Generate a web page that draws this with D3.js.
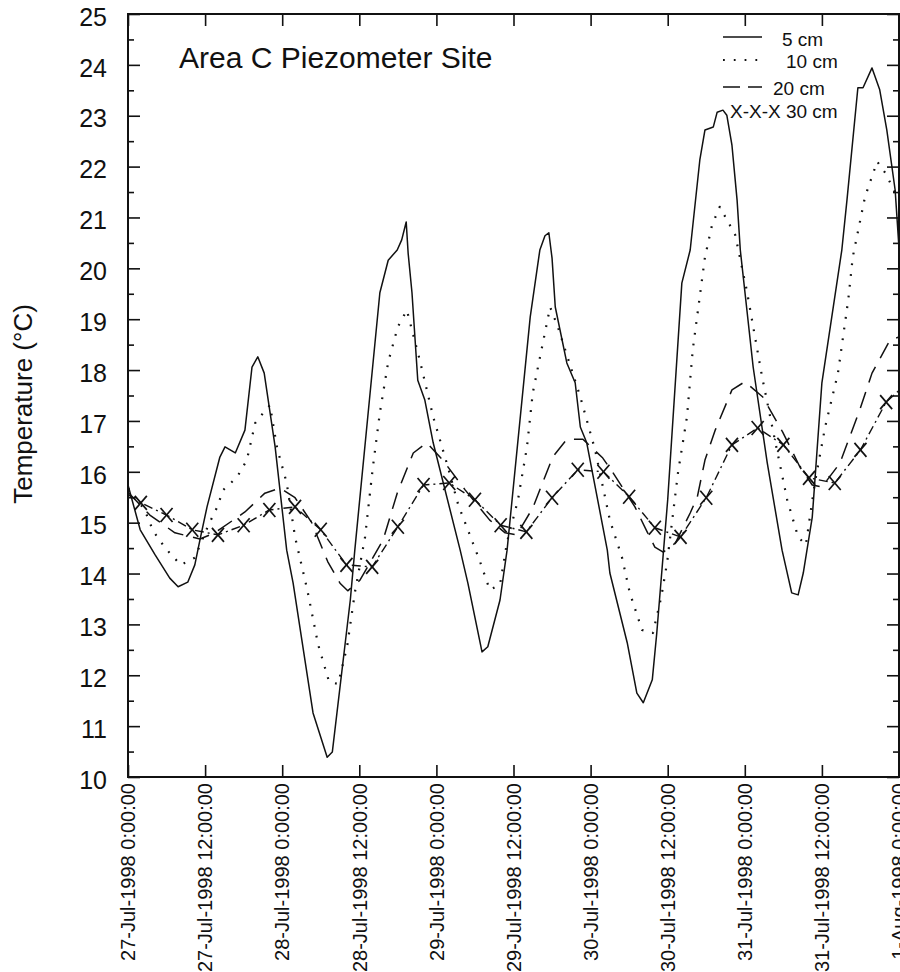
<!DOCTYPE html>
<html lang="en">
<head>
  <meta charset="UTF-8" />
  <title>Area C Piezometer Site</title>
  <style>
    body { margin: 0; padding: 0; background: #fff; }
    svg { display: block; font-family: "Liberation Sans", Arial, Helvetica, sans-serif; }
  </style>
</head>
<body>
  <svg id="chart" width="900" height="972"></svg>

  <script src="https://d3js.org/d3.v7.min.js"></script>
  <script>
    // hours after 27-Jul-1998 0:00, temperature in deg C
    const hours5 = [0, 1.9, 4.2, 6.5, 7.8, 9.3, 10.4, 11.2, 12.3, 14.3, 15.1, 16.7, 18.2, 19.3, 20.2, 21.2, 22.9, 24.7, 25.7, 28.8,
      31.0, 31.8, 34.6, 35.3, 39.2, 40.5, 41.9, 42.6, 43.3, 43.6, 44.2, 45.1, 46.2, 47.5, 51.7, 52.9, 55.1, 56.0, 57.9, 59.0,
      62.6, 64.1, 64.9, 65.5, 66.0, 66.5, 68.3, 69.6, 70.4, 71.4, 74.6, 75.0, 77.7, 79.2, 80.2, 81.6, 82.3, 84.0, 86.2, 87.5,
      89.0, 89.8, 91.1, 91.7, 92.6, 93.2, 94.0, 94.8, 95.3, 97.3, 99.5, 101.8, 103.3, 104.3, 105.1, 106.5, 108.0, 111.1, 111.9, 113.6,
      114.4, 115.8, 117.0, 118.1, 119.4, 120];
    const temp5 = [15.74, 14.86, 14.37, 13.91, 13.74, 13.83, 14.17, 14.66, 15.31, 16.29, 16.49, 16.37, 16.82, 18.06, 18.26, 17.94, 16.49, 14.46, 13.81, 11.26,
      10.39, 10.49, 13.48, 14.46, 19.52, 20.16, 20.36, 20.56, 20.91, 20.3, 19.52, 17.8, 17.41, 16.57, 14.46, 13.81, 12.46, 12.56, 13.48, 14.46,
      19.04, 20.36, 20.64, 20.7, 20.2, 19.24, 18.14, 17.75, 16.88, 16.57, 14.46, 14.01, 12.64, 11.65, 11.46, 11.91, 12.83, 15.45, 19.71, 20.36,
      22.13, 22.72, 22.78, 23.07, 23.11, 23.01, 22.42, 21.34, 20.36, 18.06, 16.17, 14.46, 13.62, 13.58, 14.01, 15.11, 17.75, 20.36, 21.34, 23.55,
      23.55, 23.94, 23.51, 22.72, 21.54, 20.4];

    const hours10 = [0, 2.6, 3.9, 5.8, 8.2, 10.4, 12.5, 13.9, 14.8, 17.0, 18.5, 19.8, 21.2, 22.1, 23.2, 24.7, 26.0, 27.9, 29.6, 31.3,
      32.7, 34.1, 35.3, 36.9, 38.1, 39.2, 40.5, 42.0, 43.4, 45.4, 47.5, 49.8, 51.4, 53.5, 54.8, 56.3, 57.9, 59.0, 60.7, 62.1,
      63.0, 64.1, 65.7, 66.9, 70.4, 72.7, 75.0, 76.9, 78.1, 80.0, 81.7, 83.0, 83.9, 85.6, 87.0, 87.9, 89.8, 90.9, 92.1, 94.5,
      96.3, 98.7, 101.0, 102.6, 104.3, 105.5, 106.9, 108.5, 110.5, 112.1, 112.8, 114.7, 116.6, 118.0, 119.4];
    const temp10 = [15.68, 15.25, 14.84, 14.50, 14.17, 14.31, 14.95, 15.31, 15.64, 15.90, 16.23, 16.96, 17.18, 17.31, 16.47, 15.78, 14.72, 13.68, 12.60, 11.87,
      11.83, 12.56, 13.62, 14.72, 16.08, 17.16, 18.16, 18.85, 19.18, 18.20, 17.08, 16.09, 15.35, 14.66, 14.23, 13.68, 13.78, 14.62, 15.45, 16.49,
      17.55, 18.24, 19.24, 18.85, 17.47, 16.43, 15.05, 14.31, 13.62, 12.89, 12.83, 13.54, 14.21, 15.98, 17.08, 18.40, 20.22, 20.85, 21.21, 20.66,
      19.57, 17.86, 16.43, 15.45, 14.72, 14.56, 15.78, 16.88, 17.94, 19.38, 20.22, 21.4, 22.1, 21.85, 21.48];

    const hours20 = [0, 3.4, 7.3, 11.2, 13.5, 18.2, 21.3, 23.7, 26.0, 28.6, 31.1, 33.0, 34.2, 36.1, 39.7, 41.9, 44.4, 46.5, 49.0, 52.5,
      56.3, 58.7, 60.5, 63.0, 66.1, 68.3, 70.8, 73.9, 75.5, 78.9, 80.8, 82.0, 83.3, 85.2, 87.5, 88.6, 89.8, 91.4, 94.0, 96.0,
      98.8, 101.9, 104.6, 106.5, 108.0, 110.8, 113.9, 115.8, 118.6, 120];
    const temp20 = [15.6, 15.15, 14.8, 14.68, 14.8, 15.21, 15.58, 15.68, 15.49, 15.0, 14.23, 13.81, 13.66, 13.87, 14.66, 15.58, 16.37, 16.57, 16.23, 15.64,
      15.05, 14.80, 14.76, 15.29, 16.29, 16.64, 16.64, 16.27, 15.98, 15.31, 14.82, 14.52, 14.42, 14.6, 15.19, 15.5, 16.23, 16.82, 17.61, 17.77,
      17.47, 16.78, 16.09, 15.74, 15.70, 16.17, 17.22, 17.94, 18.59, 18.65];

    const hours30 = [0, 2, 6, 10, 14, 18, 22, 26, 30, 34, 38, 42, 46, 50, 54, 58, 62, 66, 70, 74,
      78, 82, 86, 90, 94, 98, 102, 106, 110, 114, 118, 120];
    const temp30 = [15.55, 15.39, 15.15, 14.86, 14.76, 14.95, 15.25, 15.31, 14.86, 14.17, 14.13, 14.92, 15.74, 15.78, 15.45, 14.95, 14.82, 15.49, 16.04, 16.00,
      15.51, 14.90, 14.72, 15.49, 16.53, 16.86, 16.53, 15.88, 15.78, 16.43, 17.37, 17.6];

    const yTickValues = d3.range(10, 26);
    const legendLabels = ["5 cm", "10 cm", "20 cm", "X-X-X 30 cm"];

    const mLeft = 128, mRight = 899, mTop = 14, mBottom = 777;
    const ink = "#111";
    const start = Date.UTC(1998, 6, 27);
    const toDate = h => new Date(start + h * 36e5);
    const fmt = d3.utcFormat("%-d-%b-%Y %-H:%M:%S");

    const svg = d3.select("#chart");

    const x = d3.scaleUtc().domain([toDate(0), toDate(120)]).range([mLeft, mRight]);
    const y = d3.scaleLinear().domain([10, 25]).range([mBottom, mTop]);
    const xTicks = d3.utcHour.every(12).range(toDate(0), toDate(120.5));

    svg.append("clipPath").attr("id", "plot")
      .append("rect").attr("x", mLeft).attr("y", mTop).attr("width", mRight - mLeft).attr("height", mBottom - mTop);

    function styleAxis(g) {
      g.select(".domain").remove();
      g.selectAll(".tick line").attr("stroke", ink).attr("stroke-width", 1.6);
      g.selectAll(".tick text").attr("fill", ink);
    }

    // left axis, labels + major/minor ticks
    svg.append("g").attr("transform", `translate(${mLeft},0)`)
      .call(d3.axisLeft(y).tickValues(yTickValues).tickSize(-12).tickPadding(21).tickFormat(d3.format("d")))
      .call(styleAxis)
      .call(g => g.attr("font-family", null).attr("font-size", 25))
      .call(g => g.selectAll(".tick text").attr("dy", "0.45em"));
    svg.append("g").attr("transform", `translate(${mLeft},0)`)
      .call(d3.axisLeft(y).tickValues(d3.range(10.5, 25, 1)).tickSize(-6).tickFormat(""))
      .call(styleAxis);

    // right axis
    svg.append("g").attr("transform", `translate(${mRight},0)`)
      .call(d3.axisRight(y).tickValues(yTickValues).tickSize(-12).tickFormat(""))
      .call(styleAxis);
    svg.append("g").attr("transform", `translate(${mRight},0)`)
      .call(d3.axisRight(y).tickValues(d3.range(10.5, 25, 1)).tickSize(-6).tickFormat(""))
      .call(styleAxis);

    // bottom + top axes
    svg.append("g").attr("transform", `translate(0,${mBottom})`)
      .call(d3.axisBottom(x).tickValues(xTicks).tickSize(-12).tickFormat(""))
      .call(styleAxis);
    svg.append("g").attr("transform", `translate(0,${mTop})`)
      .call(d3.axisTop(x).tickValues(xTicks).tickSize(-12).tickFormat(""))
      .call(styleAxis);

    svg.append("g").selectAll("text")
      .data(xTicks)
      .join("text")
      .attr("transform", d => `translate(${x(d)},${mBottom + 6}) rotate(-90)`)
      .attr("text-anchor", "end")
      .attr("dy", "0.36em")
      .attr("font-size", 20)
      .attr("fill", ink)
      .text(fmt);

    // frame
    svg.append("rect")
      .attr("x", mLeft).attr("y", mTop)
      .attr("width", mRight - mLeft).attr("height", mBottom - mTop)
      .attr("fill", "none").attr("stroke", ink).attr("stroke-width", 2);

    svg.append("text")
      .attr("transform", `translate(32,404) rotate(-90)`)
      .attr("text-anchor", "middle")
      .attr("font-size", 26)
      .attr("fill", ink)
      .text("Temperature (°C)");

    svg.append("text")
      .attr("x", 179).attr("y", 68)
      .attr("font-size", 30)
      .attr("fill", ink)
      .text("Area C Piezometer Site");

    // series
    const line = d3.line()
      .x(d => x(toDate(d[0])))
      .y(d => y(d[1]));

    const series = [
      { pts: d3.zip(hours5, temp5), dash: null, width: 1.5 },
      { pts: d3.zip(hours10, temp10), dash: "1.8,9", width: 2.2 },
      { pts: d3.zip(hours20, temp20), dash: "17,10", width: 1.5 },
      { pts: d3.zip(hours30, temp30), dash: "9,4,2,4", width: 1.4 }
    ];

    const plot = svg.append("g").attr("clip-path", "url(#plot)");

    plot.selectAll("path.series")
      .data(series)
      .join("path")
      .attr("class", "series")
      .attr("d", d => line(d.pts))
      .attr("fill", "none")
      .attr("stroke", ink)
      .attr("stroke-width", d => d.width)
      .attr("stroke-dasharray", d => d.dash)
      .attr("stroke-linejoin", "round");

    // X markers every 4 hours on the 30 cm line
    const marks = d3.zip(hours30, temp30).filter(d => d[0] % 4 === 2);
    const mk = plot.selectAll("g.mark")
      .data(marks)
      .join("g")
      .attr("class", "mark")
      .attr("transform", d => `translate(${x(toDate(d[0]))},${y(d[1])})`)
      .attr("stroke", ink)
      .attr("stroke-width", 1.7);
    mk.append("line").attr("x1", -6).attr("y1", -7).attr("x2", 6).attr("y2", 7);
    mk.append("line").attr("x1", -6).attr("y1", 7).attr("x2", 6).attr("y2", -7);

    // legend
    const legendY = [37, 60, 87];
    const legendDash = [null, "1.8,9", "17,8"];
    svg.append("g").selectAll("line")
      .data(legendY)
      .join("line")
      .attr("x1", 723).attr("x2", 762)
      .attr("y1", d => d).attr("y2", d => d)
      .attr("stroke", ink)
      .attr("stroke-width", (d, i) => i === 1 ? 2.2 : 1.5)
      .attr("stroke-dasharray", (d, i) => legendDash[i]);

    const legendX = [782, 786, 773, 730];
    const legendBase = [46, 68, 95, 118];
    svg.append("g").selectAll("text")
      .data(legendLabels)
      .join("text")
      .attr("x", (d, i) => legendX[i])
      .attr("y", (d, i) => legendBase[i])
      .attr("font-size", 19)
      .attr("fill", ink)
      .text(d => d);
  </script>
</body>
</html>
